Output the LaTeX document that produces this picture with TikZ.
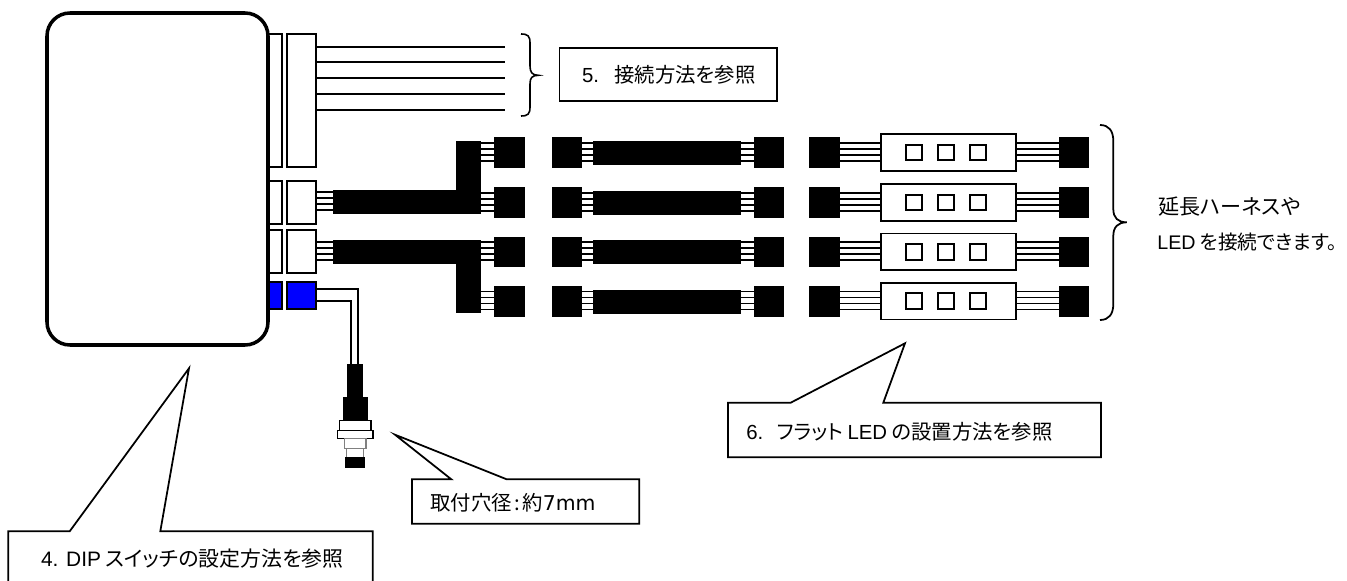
\documentclass[tikz,border=0pt]{standalone}
\usepackage{fontspec}
\setmainfont[RawFeature=+palt]{Noto Sans CJK JP}
\newfontfamily\lat{Liberation Sans}
\newfontfamily\wide{DejaVu Sans}
\usetikzlibrary{calc,positioning}

\newcommand{\px}{0.02cm}
\newcommand{\wires}[2]{\foreach \dy in {-10,-4,2,8} \draw[wire] ($(#1)+(0,\dy)$) -- ($(#2)+(0,\dy)$);}
\tikzset{
    size/.style 2 args={minimum width=#1*\px,minimum height=#2*\px,inner sep=0pt,outer sep=0pt},
    plain/.style={draw,fill=white,line width=1pt},
    wire/.style={line width=1pt},
    square/.style={fill=black,size={30.5}{30.6}},
    bar/.style={fill=black,size={148}{24}},
    board/.style={plain,size={134.7}{36.8}},
    led/.style={plain,line width=1.1pt,size={15.7}{15.7}},
    note/.style={anchor=west,inner sep=0pt,font=\fontsize{11.6}{14}\selectfont},
    callout/.style={line width=1pt,line join=miter}
}

\begin{document}
\begin{tikzpicture}[x=\px,y=-\px]
    \useasboundingbox (0,0) rectangle (1347,581);

    % connectors on the controller
    \node[plain,size={30}{133}] (P1) at (266.7,100.5) {};
    \node[plain,size={30}{43}] (P2) at (266.7,202.5) {};
    \node[plain,size={30}{43}] (P3) at (266.7,251.3) {};
    \node[plain,fill=blue,size={30}{27}] (P4) at (266.7,295.5) {};
    \node[plain,size={29}{133}] (Q1) at (301.8,100.5) {};
    \node[plain,size={29}{43}] (Q2) at (301.8,202.5) {};
    \node[plain,size={29}{43}] (Q3) at (301.8,251.3) {};
    \node[plain,fill=blue,size={29}{27}] (Q4) at (301.8,295.5) {};
    \node[draw,fill=white,line width=2pt,rounded corners=23*\px,size={221}{332}] (Box) at (157.5,179) {};

    % loose wires
    \coordinate (W) at (504.7,78);
    \foreach \y in {46.7,62.3,78.3,94,109.7}
        \draw[wire] (Q1.east |- 0,\y) -- (W |- 0,\y);
    \draw[line width=0.9pt] (521,34) .. controls (528,34) and (530,36) .. (530,43) -- (530,66)
        .. controls (530,72) and (532,75.3) .. (538.3,75.3)
        .. controls (532,75.3) and (530,78) .. (530,84) -- (530,107)
        .. controls (530,114) and (528,116) .. (521,116);
    \node[draw,line width=1pt,size={217.5}{52.5}] (N5) at (668.2,74.5) {};
    \node[note] (T5) at (581.7,74.5) {{\lat 5.}\hspace{0.75em}接続方法を参照};

    % split harness
    \node[bar] (H1) at (406.8,202) {};
    \node[bar] (H2) at (406.8,251.8) {};
    \node[fill=black,size={24.7}{72.7}] (V1) at (468.3,177.3) {};
    \node[fill=black,size={24.7}{72.7}] (V2) at (468.3,276.3) {};
    \wires{Q2.east |- H1.west}{H1.west}
    \wires{Q3.east |- H2.west}{H2.west}

    % the four rows
    \foreach \r/\y in {1/152.8,2/202.8,3/252.2,4/301.5} {
        \node[square] (A\r) at (509.5,\y) {};
        \node[square] (B\r) at (566.9,\y) {};
        \node[bar] (M\r) at (667,\y) {};
        \node[square] (C\r) at (769.2,\y) {};
        \node[square] (D\r) at (824.6,\y) {};
        \node[board] (L\r) at (948.4,\y-0.3) {};
        \node[square] (E\r) at (1073.9,\y) {};
        \foreach \x in {914.2,946.2,978.2}
            \node[led] at (\x,\y-0.3) {};
        \wires{B\r.east}{B\r.east -| M\r.west}
        \wires{M\r.east |- C\r.west}{C\r.west}
        \wires{D\r.east}{D\r.east -| L\r.west}
        \wires{L\r.east |- E\r.west}{E\r.west}
    }
    \wires{V1.east |- A1.west}{A1.west}
    \wires{H1.east |- A2.west}{A2.west}
    \wires{H2.east |- A3.west}{A3.west}
    \wires{V2.east |- A4.west}{A4.west}

    \draw[line width=1pt] (1100,125) .. controls (1109,125) and (1113.3,131) .. (1113.3,141) -- (1113.3,209)
        .. controls (1113.3,218) and (1118,222.3) .. (1126.7,222.3)
        .. controls (1118,222.3) and (1113.3,227) .. (1113.3,236) -- (1113.3,304)
        .. controls (1113.3,314) and (1109,320) .. (1100,320);
    \node[note,font=\fontsize{12}{14}\selectfont] (T7) at (1158,207) {延長ハーネスや};
    \node[note,font=\fontsize{11.2}{14}\selectfont] (T8) at (1157,242) {{\lat LED} を接続できます。};

    % push switch
    \node[fill=black,size={16}{33.3}] (J1) at (355.3,380.7) {};
    \node[fill=black,below=0pt of J1,size={25}{23.4}] (J2) {};
    \node[draw,line width=0.6pt,below=0pt of J2,size={31.4}{9.6}] (J3) {};
    \node[draw,line width=0.7pt,below=0pt of J3,size={35.4}{8.4}] (J4) {};
    \node[draw=gray,line width=0.7pt,below=0pt of J4,size={21.3}{9.6}] (J5) {};
    \node[draw=gray,line width=0.6pt,below=0pt of J5,size={17.3}{9}] (J6) {};
    \node[fill=black,below=0pt of J6,size={20}{10.4}] (J7) {};
    \draw[wire] ($(Q4.east)+(0,-6.2)$) -| ($(J1.north)+(2.4,0)$);
    \draw[wire] ($(Q4.east)+(0,5.2)$) -| ($(J1.north)+(-4.6,0)$);

    % notes with pointers
    \draw[callout] (8.3,581) -- (8.3,531.3) -- (69.7,531.3) -- (189,368.3) -- (160.3,531.3) -- (372.7,531.3) -- (372.7,581);
    \node[note,font=\fontsize{11.9}{14}\selectfont] (T4) at (40.7,559) {{\lat 4. DIP} スイッチの設定方法を参照};
    \draw[callout] (412,479.3) -- (451.3,479.3) -- (395,434.7) -- (506.7,479.3) -- (639.3,479.3) -- (639.3,523.7) -- (412,523.7) -- cycle;
    \node[note] (TH) at (430,503) {取付穴径\hspace{0.12em}:\hspace{0.12em}約{\wide 7mm}};
    \draw[callout] (728,402.7) -- (790.7,402.7) -- (905,343.3) -- (883.3,402.7) -- (1101,402.7) -- (1101,457.3) -- (728,457.3) -- cycle;
    \node[note] (T6) at (746,431.7) {{\lat 6.}\hspace{0.65em}フラット {\lat LED} の設置方法を参照};
\end{tikzpicture}
\end{document}
